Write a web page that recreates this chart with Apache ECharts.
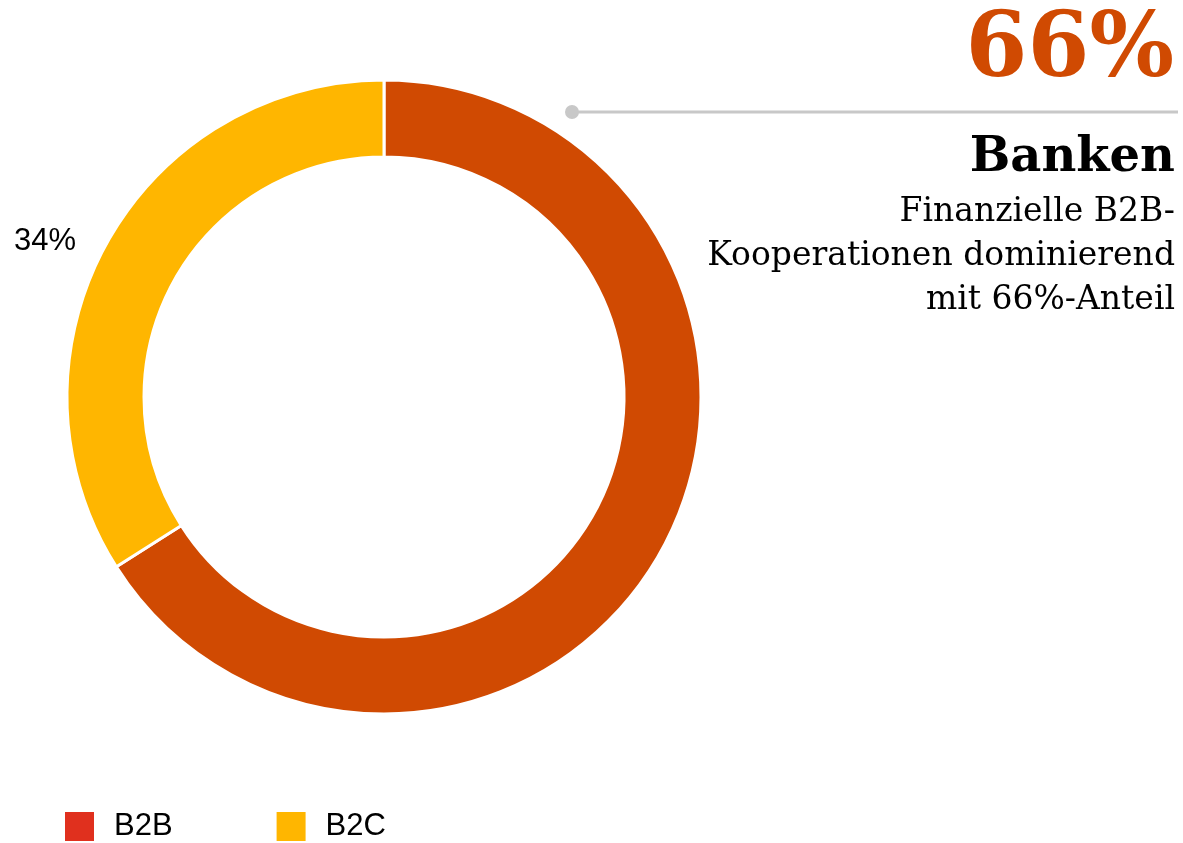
<!DOCTYPE html>
<html>
<head>
<meta charset="utf-8">
<script src="https://cdn.jsdelivr.net/npm/echarts@6/dist/echarts.min.js"></script>
<style>
* { margin: 0; padding: 0; }
html, body { width: 1183px; height: 843px; background: #fff; overflow: hidden; }
#chart { width: 1183px; height: 843px; }
</style>
</head>
<body>
<div id="chart"></div>
<script>
// Anteile der Kooperationen
var categories = ['B2B', 'B2C'];
var shares = [66, 34];
var subtitleLines = ['Finanzielle B2B-', 'Kooperationen dominierend', 'mit 66%-Anteil'];

var sliceColors = ['#D04A02', '#FFB600'];
var legendColors = ['#E0301E', '#FFB600'];
var serif = "Georgia, 'DejaVu Serif', serif";
var sans = "Arial, 'Liberation Sans', sans-serif";

var chart = echarts.init(document.getElementById('chart'));

var pieData = categories.map(function (name, i) {
  return {
    name: name,
    value: shares[i],
    itemStyle: { color: sliceColors[i] },
    label: { show: i === 1 }
  };
});

chart.setOption({
  animation: false,
  legend: {
    left: 63,
    top: 810,
    padding: 0,
    icon: 'rect',
    itemWidth: 31,
    itemHeight: 31,
    itemGap: 102,
    selectedMode: false,
    textStyle: {
      fontFamily: sans,
      fontSize: 31,
      color: '#000',
      padding: [0, 0, 0, 14]
    },
    data: categories.map(function (name, i) {
      return { name: name, itemStyle: { color: legendColors[i] } };
    })
  },
  graphic: [
    {
      type: 'text',
      x: 1174,
      y: 8,
      style: {
        text: shares[0] + '%',
        font: 'bold 89px ' + serif,
        fill: '#D04A02',
        align: 'right',
        verticalAlign: 'top'
      }
    },
    {
      type: 'line',
      shape: { x1: 572, y1: 112, x2: 1178, y2: 112 },
      style: { stroke: '#C8C8C8', lineWidth: 3 }
    },
    {
      type: 'circle',
      shape: { cx: 572, cy: 112, r: 7 },
      style: { fill: '#C8C8C8' }
    },
    {
      type: 'text',
      x: 1175,
      y: 135,
      style: {
        text: 'Banken',
        font: 'bold 48px ' + serif,
        fill: '#000',
        align: 'right',
        verticalAlign: 'top'
      }
    },
    {
      type: 'text',
      x: 1175,
      y: 190,
      style: {
        text: subtitleLines.join('\n'),
        font: '33px ' + serif,
        lineHeight: 44,
        fill: '#000',
        align: 'right',
        verticalAlign: 'top'
      }
    }
  ],
  series: [
    {
      type: 'pie',
      center: [384, 397],
      radius: [240, 317],
      startAngle: 90,
      clockwise: true,
      avoidLabelOverlap: false,
      emphasis: { disabled: true },
      itemStyle: { borderColor: '#fff', borderWidth: 3 },
      label: {
        position: 'outside',
        formatter: '{d}%',
        fontFamily: sans,
        fontSize: 31,
        color: '#000'
      },
      labelLine: { show: false, length: 15, length2: 12 },
      labelLayout: { dy: 4 },
      data: pieData
    }
  ]
});
</script>
</body>
</html>
